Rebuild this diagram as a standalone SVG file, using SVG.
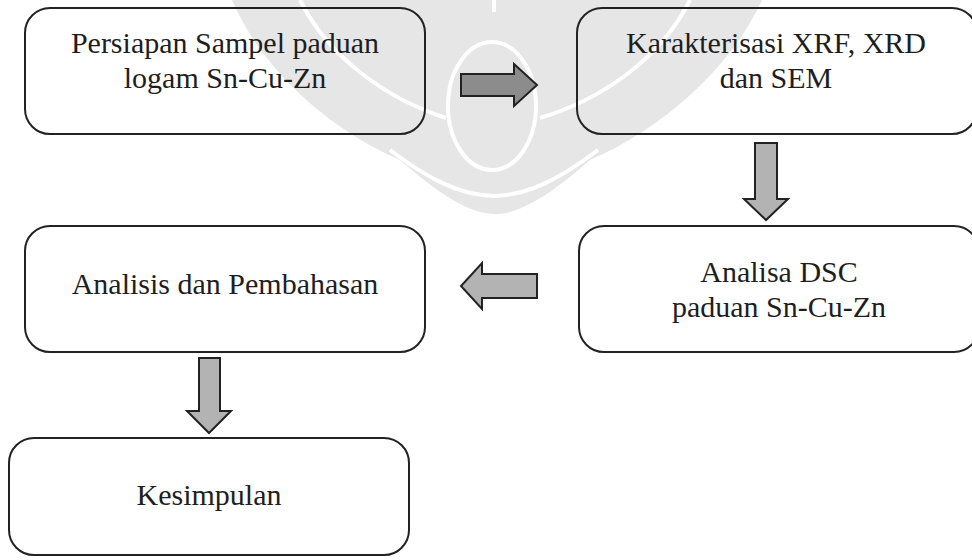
<svg xmlns="http://www.w3.org/2000/svg" width="972" height="560" viewBox="0 0 972 560">
<style>
.box{fill:none;stroke:#222;stroke-width:2}
.arr{fill:#b3b3b3;stroke:#222;stroke-width:2;stroke-linejoin:miter}
.wm{fill:#e6e6e6}
.wl{fill:none;stroke:#fff;stroke-width:4}
text{font-family:'Liberation Serif',serif !important;font-size:30px;fill:#1e1e1e;text-anchor:middle}
</style>
<rect width="972" height="560" fill="#fff"/>
<g id="watermark">
<path class="wm" d="M232 0 C262 70 330 130 400 160 C440 195 470 214 495 214 C520 214 550 195 590 160 C660 130 730 70 762 0 Z"/>
<ellipse class="wl" cx="492" cy="106" rx="44" ry="64"/>
<path class="wl" d="M300 0 C330 60 390 100 446 118"/>
<path class="wl" d="M690 0 C660 60 600 100 540 118"/>
<path class="wl" d="M390 150 C430 180 460 195 494 196 C528 195 558 180 598 150"/>
<path class="wl" d="M494 0 V12"/>
</g>
<g id="connectors">
<path id="a1" class="arr" d="M461 74 H514 V64 L537 85 L514 106 V96 H461 Z" style="fill:#8c8c8c"/>
<path id="a2" class="arr" d="M755 143 H777 V199 H788 L766 220 L744 199 H755 Z"/>
<path id="a3" class="arr" d="M537 274 H482 V263 L461 286 L482 309 V298 H537 Z"/>
<path id="a4" class="arr" d="M199 358 H220 V411 H231 L209 433 L187 411 H199 Z"/>
</g>
<g id="n1">
<rect class="box" x="25" y="8" width="400" height="126" rx="25"/>
<text x="225" y="53" style="font-family:'Liberation Serif',serif">Persiapan Sampel paduan</text>
<text x="225" y="88" style="font-family:'Liberation Serif',serif">logam Sn-Cu-Zn</text>
</g>
<g id="n2">
<rect class="box" x="577" y="8" width="400" height="126" rx="25"/>
<text x="776" y="53" style="font-family:'Liberation Serif',serif">Karakterisasi XRF, XRD</text>
<text x="776" y="88" style="font-family:'Liberation Serif',serif">dan SEM</text>
</g>
<g id="n3">
<rect class="box" x="579" y="226" width="400" height="126" rx="25"/>
<text x="779" y="282" style="font-family:'Liberation Serif',serif">Analisa DSC</text>
<text x="779" y="317" style="font-family:'Liberation Serif',serif">paduan Sn-Cu-Zn</text>
</g>
<g id="n4">
<rect class="box" x="25" y="226" width="400" height="126" rx="25"/>
<text x="225" y="294" style="font-family:'Liberation Serif',serif">Analisis dan Pembahasan</text>
</g>
<g id="n5">
<rect class="box" x="9" y="438" width="400" height="117" rx="25"/>
<text x="209" y="505" style="font-family:'Liberation Serif',serif">Kesimpulan</text>
</g>
</svg>
